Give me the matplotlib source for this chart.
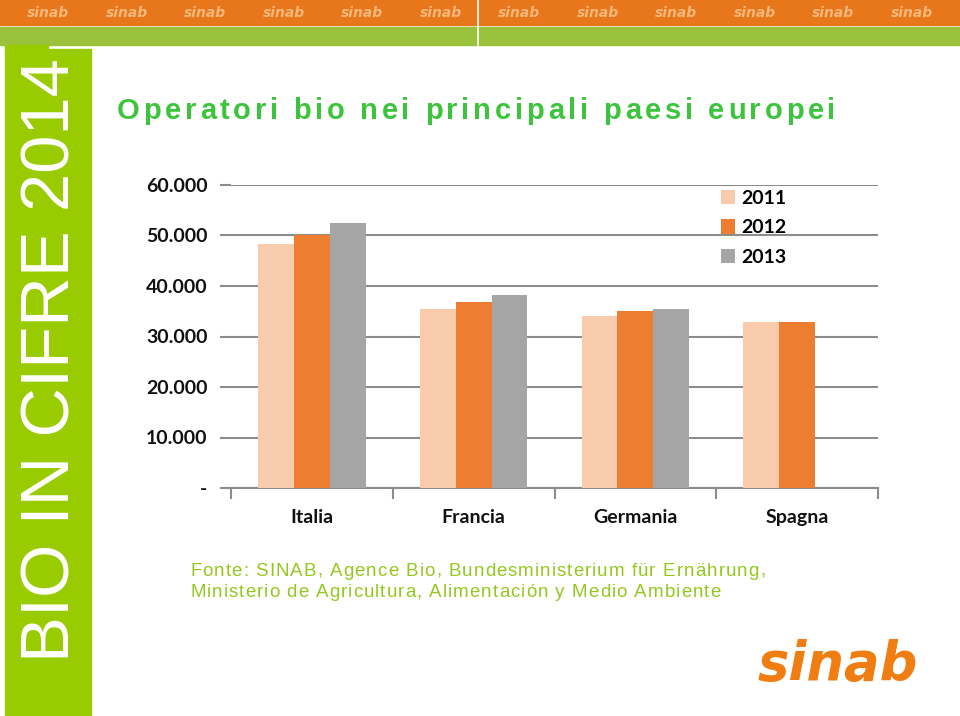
import numpy as np
import matplotlib
matplotlib.use("Agg")
import matplotlib.pyplot as plt
from matplotlib.patches import Rectangle

# data
countries = ["Italia", "Francia", "Germania", "Spagna"]
years = ["2011", "2012", "2013"]
v2011 = [48300, 35450, 34100, 32900]
v2012 = [50050, 36800, 35100, 32800]
v2013 = [52500, 38200, 35350, np.nan]
yticks = [0, 10000, 20000, 30000, 40000, 50000, 60000]
ytick_labels = ["-", "10.000", "20.000", "30.000", "40.000", "50.000", "60.000"]

bar_colors = ["#F8CBAD", "#ED7D31", "#A5A5A5"]
green = "#99CC00"
title_green = "#3CC43C"
text_green = "#94C81E"

W, H = 960, 716
fig = plt.figure(figsize=(W / 100, H / 100), dpi=100)
renderer = fig.canvas.get_renderer()


def px_axes(x0, y0, x1, y1):
    # pixel box (top-left origin) -> figure axes
    return fig.add_axes([x0 / W, 1 - y1 / H, (x1 - x0) / W, (y1 - y0) / H])


def spaced_text(ax, x, y, s, spacing, **kw):
    # draw text char by char, adding extra pixels between letters
    for ch in s:
        t = ax.text(x, y, ch, ha="left", va="baseline", **kw)
        w = t.get_window_extent(renderer).width
        if ch == " ":
            w = kw.get("fontsize", 12) * 100 / 72 * 0.28
        x += w + spacing


# page decoration
deco = fig.add_axes([0, 0, 1, 1])
deco.set_xlim(0, W)
deco.set_ylim(H, 0)
deco.axis("off")
deco.add_patch(Rectangle((0, 0), W, 25, color="#E8771B"))
deco.add_patch(Rectangle((0, 27), W, 18, color="#9BC23C"))
deco.plot([478, 478], [0, 45], color="white", lw=1.2)
deco.add_patch(Rectangle((5, 45), 43, 4, color=green))
deco.add_patch(Rectangle((5, 49), 86, H - 49, color=green))
for xc in np.arange(48, 960, 78.5):
    deco.text(xc, 13, "sinab", color="#F6B77A", fontsize=10, fontweight="bold",
              style="italic", ha="center", va="center", family="DejaVu Sans")
deco.text(52, 360, "BIO IN CIFRE 2014", rotation=90, color="white", fontsize=49.5,
          ha="center", va="center", family="Liberation Sans")
spaced_text(deco, 117, 119, "Operatori bio nei principali paesi europei", 3.7,
            color=title_green, fontsize=21, fontweight="bold", family="Liberation Sans")
spaced_text(deco, 190, 576, "Fonte: SINAB, Agence Bio, Bundesministerium für Ernährung,", 1.05,
            color=text_green, fontsize=13.5, family="Liberation Sans")
spaced_text(deco, 190, 597, "Ministerio de Agricultura, Alimentación y Medio Ambiente", 1.05,
            color=text_green, fontsize=13.5, family="Liberation Sans")
deco.text(838, 665, "sinab", color="#F07D12", fontsize=38, fontweight="bold",
          style="italic", ha="center", va="center", family="DejaVu Sans")

# chart
ax = px_axes(231, 185, 878, 488)
x = np.arange(len(countries))
bw = 0.222
for i, (vals, lab) in enumerate(zip([v2011, v2012, v2013], years)):
    ax.bar(x + (i - 1) * bw, vals, bw, color=bar_colors[i], label=lab, zorder=3)

ax.set_xlim(-0.5, len(countries) - 0.5)
ax.set_ylim(0, 60000)
ax.set_yticks(yticks)
ax.set_yticklabels(ytick_labels)
ax.yaxis.grid(True, color="#8C8C8C", lw=1.5, zorder=0)
for s in ["left", "right", "top"]:
    ax.spines[s].set_visible(False)
ax.spines["bottom"].set_color("#8C8C8C")
ax.spines["bottom"].set_linewidth(1.5)
ax.tick_params(axis="y", length=8, width=1.5, color="#8C8C8C", pad=9)
ax.set_xticks(x)
ax.set_xticklabels(countries)
ax.set_xticks(np.arange(-0.5, len(countries)), minor=True)
ax.tick_params(axis="x", which="major", length=0, pad=15)
ax.tick_params(axis="x", which="minor", length=8, width=1.5, color="#8C8C8C")
for t in ax.get_yticklabels() + ax.get_xticklabels():
    t.set_family("Lato")
    t.set_fontweight("bold")
    t.set_fontsize(14)
    t.set_color("#111111")

leg = ax.legend(loc="upper left", bbox_to_anchor=(0.757, 0.985), frameon=False,
                borderpad=0, borderaxespad=0,
                handlelength=0.75, handleheight=0.75, handletextpad=0.3,
                labelspacing=0.65, prop={"family": "Lato", "weight": "bold", "size": 14})

fig.savefig("out.png", dpi=100)
